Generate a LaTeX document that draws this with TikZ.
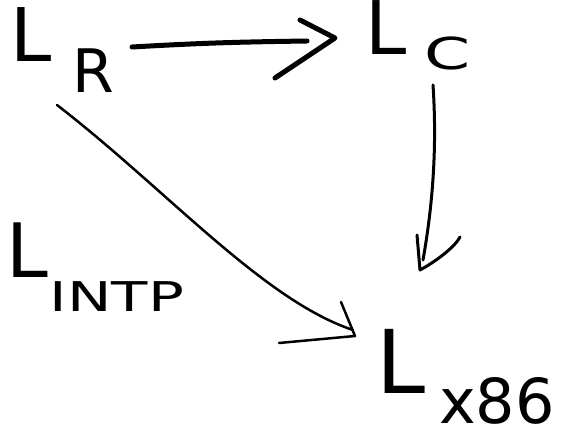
\documentclass[tikz,border=0pt]{standalone}
\usepackage{fontspec}
\setmainfont{DejaVu Sans}
\usetikzlibrary{calc}
\newcommand{\hlab}[6]{{\fontsize{#1}{#1}\selectfont L}\kern#3\raisebox{#4}{\fontsize{#2}{#2}\selectfont\scalebox{#5}[1]{#6}}}
\tikzset{
  lab/.style={anchor=base west, inner sep=0pt, outer sep=0pt},
  ink/.style={line cap=round, line join=round, black},
  thickink/.style={ink, line width=5pt},
  midink/.style={ink, line width=3pt},
  thinink/.style={ink, line width=2.5pt}
}
\begin{document}
\begin{tikzpicture}[x=1pt,y=-1pt]
\useasboundingbox[fill=white] (0,0) rectangle (565,435);
% labels
\node[lab] (LR) at (10,62) {\hlab{74pt}{60pt}{21pt}{-31pt}{1}{R}};
\node[lab] (LC) at (365,55) {\hlab{74pt}{44pt}{18pt}{-15pt}{1.5}{C}};
\node[lab] (LI) at (6,278) {\hlab{75pt}{41pt}{2pt}{-34pt}{1.45}{INTP}};
\node[lab] (LX) at (376,394) {\hlab{88pt}{62pt}{14pt}{-30pt}{1}{x86}};
% arrow L_R -> L_C
\coordinate (s1) at ($(LR.base west)+(122,-15)$);
\coordinate (t1) at ($(LC.base west)+(-30,-17)$);
\draw[thickink] (s1) .. controls +(70,-4) and +(-70,1) .. ($(t1)+(-28,3)$);
\draw[thickink] ($(t1)+(-35,-18)$) -- (t1) -- ($(t1)+(-60,40)$);
% arrow L_C -> L_x86
\coordinate (s2) at ($(LC.base west)+(68,30)$);
\coordinate (t2) at ($(LX.base west)+(44,-124)$);
\draw[midink] (s2) .. controls +(5,75) and +(7,-40) .. ($(t2)+(3,-10)$);
\draw[midink] ($(t2)+(-3,-35)$) -- (t2) .. controls +(15,-8) and +(-5,10) .. ($(t2)+(40,-33)$);
% arrow L_R -> L_x86
\coordinate (s3) at ($(LR.base west)+(47,43)$);
\coordinate (t3) at ($(LX.base west)+(-21,-58)$);
\draw[thinink] (s3) .. controls +(110,85) and +(-90,-30) .. ($(t3)+(-2,-6)$);
\draw[thinink] ($(t3)+(-14,-34)$) -- (t3) -- ($(t3)+(-76,7)$);
\end{tikzpicture}
\end{document}
